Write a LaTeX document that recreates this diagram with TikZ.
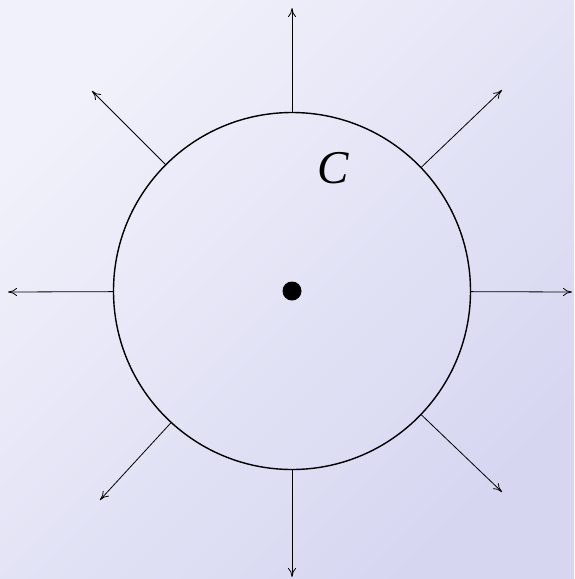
\documentclass[tikz,border=0pt]{standalone}
\usepackage{fontspec}
\setmainfont{Liberation Serif}
\usetikzlibrary{arrows.meta}
\definecolor{bgA}{HTML}{F1F1FB}
\definecolor{bgB}{HTML}{D6D6F1}
\tikzset{
  ray/.style={-{To[length=9pt,width=8pt]}, line width=0.8pt, black},
  rim/.style={circle, draw, line width=1.4pt, minimum size=357pt, inner sep=0pt},
  dotc/.style={circle, fill=black, minimum size=19pt, inner sep=0pt},
}
\begin{document}
\begin{tikzpicture}[x=1pt,y=-1pt]
\useasboundingbox (0,0) rectangle (574,579);
\shade[shading=axis, top color=bgA, bottom color=bgB, shading angle=45] (0,0) rectangle (574,579);
\node[rim] (c) at (292,291) {};
\node[dotc] (o) at (292,291) {};
\node[font=\fontsize{47}{47}\selectfont\itshape] (lab) at (333,168) {C};
\coordinate (tN) at (292,8);
\coordinate (tS) at (292,577);
\coordinate (tW) at (8,292);
\coordinate (tE) at (572,292);
\coordinate (tNW) at (92,91);
\coordinate (tNE) at (502,90);
\coordinate (tSW) at (100,500);
\coordinate (tSE) at (502,492);
\foreach \t in {tN,tS,tW,tE,tNW,tNE,tSW,tSE}{
  \draw[ray] (c) -- (\t);
}
\end{tikzpicture}
\end{document}
